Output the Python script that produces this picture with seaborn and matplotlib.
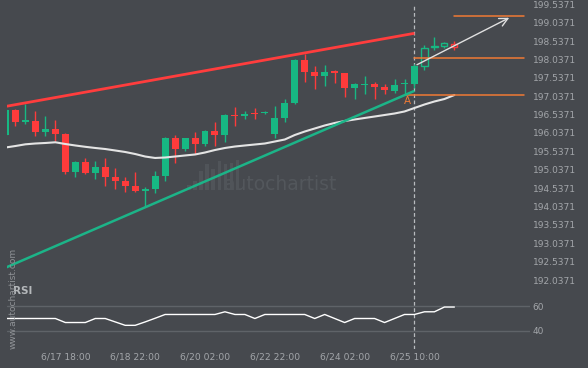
import numpy as np
import pandas as pd
import matplotlib
matplotlib.use("Agg")
import matplotlib.pyplot as plt
import seaborn as sns
from matplotlib.patches import Rectangle

# ---------------- data ----------------
opens = [195.990, 196.662, 196.349, 196.363, 196.072, 196.154, 196.009, 194.984, 195.248, 194.957,
         195.112, 194.840, 194.739, 194.595, 194.467, 194.513, 194.875, 195.901, 195.601, 195.901,
         195.746, 196.091, 195.990, 196.534, 196.491, 196.581, 196.581, 196.018, 196.453, 196.853,
         198.022, 197.696, 197.595, 197.723, 197.669, 197.269, 197.351, 197.378, 197.296, 197.187,
         197.370, 197.378, 197.867, 198.363, 198.403, 198.458]
highs = [196.676, 196.690, 196.826, 196.635, 196.499, 196.390, 196.037, 195.283, 195.357, 195.275,
         195.348, 195.076, 194.832, 194.976, 194.568, 195.003, 195.936, 195.982, 195.914, 196.064,
         196.105, 196.328, 196.545, 196.736, 196.635, 196.717, 196.622, 196.771, 196.962, 198.050,
         198.186, 197.859, 197.886, 197.737, 197.682, 197.391, 197.587, 197.432, 197.378, 197.506,
         197.506, 197.914, 198.431, 198.656, 198.512, 198.539]
lows = [195.969, 196.235, 196.273, 195.963, 195.963, 195.819, 194.921, 194.848, 194.913, 194.777,
        194.603, 194.521, 194.424, 194.424, 194.032, 194.396, 194.739, 195.212, 195.539, 195.465,
        195.683, 195.691, 195.800, 196.235, 196.417, 196.409, 196.567, 195.892, 196.328, 196.826,
        197.432, 197.242, 197.323, 197.405, 197.024, 196.953, 197.106, 196.970, 197.106, 197.133,
        197.079, 197.261, 197.750, 198.294, 198.349, 198.294]
closes = [196.662, 196.344, 196.369, 196.072, 196.154, 196.018, 194.984, 195.248, 194.957, 195.112,
          194.848, 194.739, 194.603, 194.459, 194.521, 194.867, 195.901, 195.601, 195.901, 195.746,
          196.091, 195.990, 196.534, 196.491, 196.554, 196.545, 196.608, 196.445, 196.853, 198.022,
          197.704, 197.595, 197.696, 197.677, 197.269, 197.378, 197.378, 197.296, 197.215, 197.351,
          197.386, 197.867, 198.349, 198.376, 198.485, 198.384]
moving_avg = [195.642, 195.683, 195.729, 195.751, 195.765, 195.784, 195.737, 195.697, 195.661, 195.629,
              195.601, 195.561, 195.520, 195.465, 195.397, 195.357, 195.370, 195.397, 195.425, 195.452,
              195.506, 195.574, 195.629, 195.669, 195.697, 195.724, 195.751, 195.805, 195.860, 195.982,
              196.077, 196.159, 196.241, 196.309, 196.363, 196.404, 196.445, 196.485, 196.526, 196.567,
              196.622, 196.717, 196.812, 196.894, 196.961, 197.070]
rsi = [50, 50, 50, 50, 50, 50, 46.7, 46.7, 46.7, 50,
       50, 47.2, 44.4, 44.4, 47.2, 50.2, 53.3, 53.3, 53.3, 53.3,
       53.3, 53.3, 55.5, 53.3, 53.3, 50, 53.3, 53.3, 53.3, 53.3,
       53.3, 50, 53.3, 50, 46.7, 50, 50, 50, 46.7, 50,
       53.3, 53.3, 55.5, 55.5, 59.4, 59.4]
future_start = 42  # candles drawn hollow from here

resistance_x = [0, 41]
resistance_y = [196.759, 198.749]
support_x = [0, 41]
support_y = [192.372, 197.183]
level_starts = [45, 41, 40]
level_ends = [52, 52, 52]
level_prices = [199.219, 198.069, 197.062]
arrow_from = (41, 197.859)
arrow_to = (50.75, 199.206)
point_a = (40.3, 196.907)
signal_index = 41

price_ticks = [192.0371 + 0.5 * k for k in range(16)]
rsi_ticks = [40, 60]
date_index = [6, 13, 20, 27, 34, 41]
date_labels = ["6/17 18:00", "6/18 22:00", "6/20 02:00", "6/22 22:00", "6/24 02:00", "6/25 10:00"]

# watermark logo bar heights (relative)
logo_heights = [0.15, 0.3, 0.62, 0.85, 0.7, 0.95, 0.85, 0.88, 1.0]

# ---------------- style ----------------
BG = "#46494e"
GREEN = "#17b883"
RED = "#fd3b3b"
TXT = "#a3a6aa"

sns.set_theme(style="dark", rc={"axes.facecolor": BG, "figure.facecolor": BG})
plt.rcParams["font.family"] = ["DejaVu Sans"]

W, H = 588, 368
fig = plt.figure(figsize=(W / 100, H / 100), dpi=100)
ax = fig.add_axes([7 / W, 1 - 285 / H, (530 - 7) / W, 285 / H])
rax = fig.add_axes([7 / W, 1 - 349 / H, (530 - 7) / W, (349 - 287) / H])

df = pd.DataFrame({"i": np.arange(len(opens)), "o": opens, "h": highs, "l": lows,
                   "c": closes, "ma": moving_avg, "rsi": rsi})

# watermark (behind everything)
ax.text(0.524, 0.351, "autochartist", transform=ax.transAxes, color="#53575c", fontsize=13.5,
        ha="center", va="center", zorder=0)
for k, hgt in enumerate(logo_heights):
    ax.add_patch(Rectangle((0.345 + k * 0.0115, 0.335), 0.0075, 0.105 * hgt,
                           transform=ax.transAxes, color="#505459", lw=0, zorder=0))

# candles
for r in df.itertuples():
    up = r.c >= r.o
    col = GREEN if up else RED
    hollow = r.i >= future_start
    ax.vlines(r.i, r.l, r.h, color=col, lw=1, zorder=2)
    bottom = min(r.o, r.c)
    height = max(abs(r.c - r.o), 0.03)
    if hollow:
        ax.bar(r.i, height, bottom=bottom, width=0.62, facecolor=BG, edgecolor=col, lw=1, zorder=3)
    else:
        ax.bar(r.i, height, bottom=bottom, width=0.7, color=col, lw=0, zorder=3)

# moving average
sns.lineplot(data=df, x="i", y="ma", ax=ax, color="#e4e4e4", lw=1.5, zorder=4)

# trend lines
ax.plot(resistance_x, resistance_y, color="#ff3d3d", lw=2.0, zorder=5, solid_capstyle="butt")
ax.plot(support_x, support_y, color="#1cb488", lw=1.8, zorder=5, solid_capstyle="butt")

# orange levels
for s, e, p in zip(level_starts, level_ends, level_prices):
    ax.plot([s, e], [p, p], color="#f07a35", lw=1.1, zorder=4)

# arrow
ax.annotate("", xy=arrow_to, xytext=arrow_from,
            arrowprops=dict(arrowstyle="->,head_length=0.5,head_width=0.25", color="#e0e0e0", lw=1.0),
            zorder=6)
ax.text(point_a[0], point_a[1], "A", color="#f07a35", fontsize=7.5, ha="center", va="center", zorder=6)

# signal dashed line
ax.axvline(signal_index, ymin=0, ymax=1 - 4 / 285, color="#b8bbbe", lw=0.9, ls=(0, (3, 2)), zorder=1)
rax.axvline(signal_index, color="#b8bbbe", lw=0.9, ls=(0, (3, 2)), zorder=1)

xl = ((7 - 5.5) / 9.975, (530 - 5.5) / 9.975)
ax.set_xlim(*xl)
ax.set_ylim(199.6546 - 285 / 36.76, 199.6546)
ax.yaxis.tick_right()
ax.set_yticks(price_ticks)
ax.set_yticklabels([f"{t:.4f}" for t in price_ticks])
ax.tick_params(axis="y", length=0, pad=2, labelsize=6.5, labelcolor=TXT)
ax.set_xticks([])
ax.set_xlabel("")
ax.set_ylabel("")
ax.grid(False)
for s in ax.spines.values():
    s.set_visible(False)

# RSI panel
sns.lineplot(data=df, x="i", y="rsi", ax=rax, color="white", lw=1.0, zorder=3)
for t in rsi_ticks:
    rax.axhline(t, color="#5f6368", lw=1, zorder=1)
rax.set_xlim(*xl)
rax.set_ylim(60 - (349 - 306.3) / 1.22, 60 + (306.3 - 287) / 1.22)
rax.yaxis.tick_right()
rax.set_yticks(rsi_ticks)
rax.set_yticklabels([str(t) for t in rsi_ticks])
rax.set_xticks(date_index)
rax.set_xticklabels(date_labels)
rax.tick_params(axis="y", length=0, pad=2, labelsize=6.5, labelcolor=TXT)
rax.tick_params(axis="x", length=0, pad=2.5, labelsize=6.6, labelcolor=TXT)
rax.set_xlabel("")
rax.set_ylabel("")
rax.grid(False)
for s in rax.spines.values():
    s.set_visible(False)

fig.text(13 / W, 1 - 291 / H, "RSI", color="#b5b8bb", fontsize=7.5, fontweight="bold",
         ha="left", va="center")
fig.text(13.5 / W, 1 - 298 / H, "www.autochartist.com", color="#909397", fontsize=6.5,
         rotation=90, ha="center", va="center")

fig.savefig("out.png", dpi=100, facecolor=BG)
